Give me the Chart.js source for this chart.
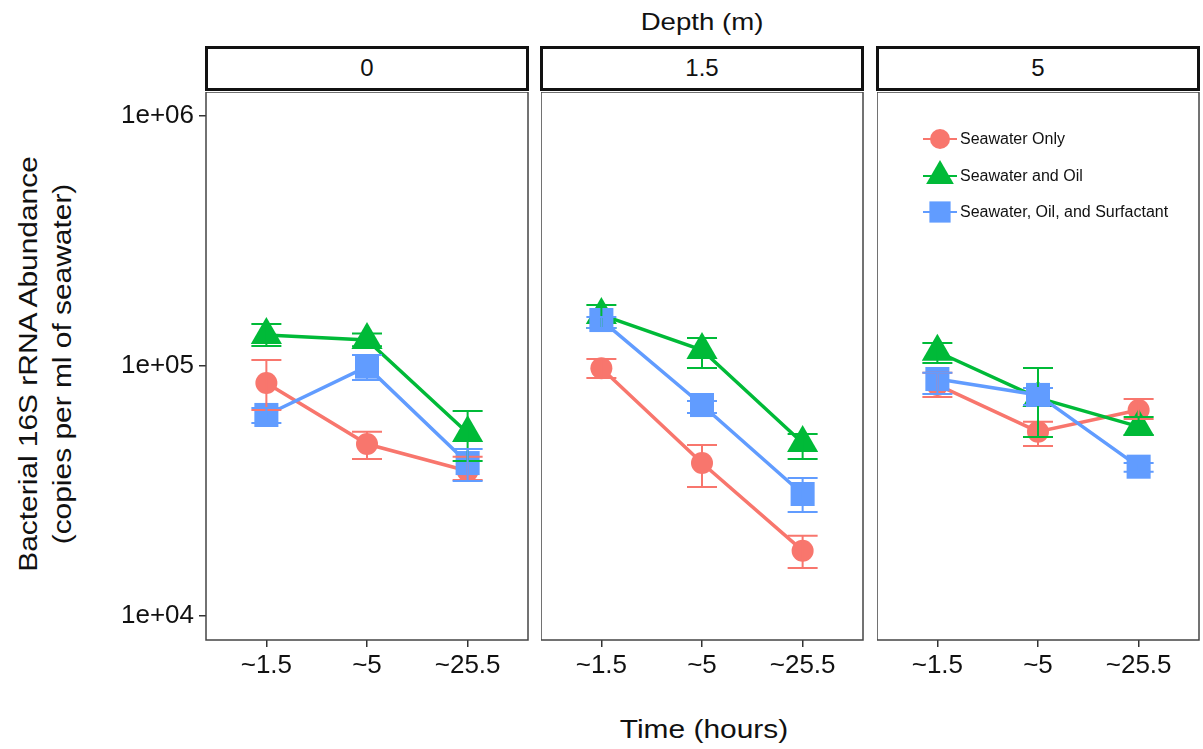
<!DOCTYPE html>
<html>
<head>
<meta charset="utf-8">
<script src="https://cdn.jsdelivr.net/npm/chart.js@4/dist/chart.umd.min.js"></script>
<style>
  html, body { margin: 0; padding: 0; background: #fff; }
  body { width: 1203px; height: 749px; position: relative; overflow: hidden;
         font-family: "Liberation Sans", Arial, sans-serif; color: #111; }
  .panel { position: absolute; }
  .panel canvas { display: block; }
  .strip { position: absolute; box-sizing: border-box; border: 3px solid #111; background: #fff;
           text-align: center; font-size: 24px; line-height: 38px; }
  .title { position: absolute; white-space: nowrap; }
</style>
</head>
<body>
<div class="title" style="left:702px;top:22px;width:0;height:0;">
  <div style="position:absolute;transform:translate(-50%,-50%) scaleX(1.15);font-size:24px;white-space:nowrap;">Depth (m)</div>
</div>
<div class="title" style="left:704px;top:729px;width:0;height:0;">
  <div style="position:absolute;transform:translate(-50%,-50%) scaleX(1.15);font-size:26px;white-space:nowrap;">Time (hours)</div>
</div>
<div class="title" style="left:45px;top:364px;width:0;height:0;">
  <div style="position:absolute;transform:translate(-50%,-50%) rotate(-90deg) scaleX(1.15);text-align:center;font-size:26px;line-height:34px;white-space:nowrap;">Bacterial 16S rRNA Abundance<br>(copies per ml of seawater)</div>
</div>

<script>
// Time points on the x axis and depth facets
const timeLabels = ['~1.5', '~5', '~25.5'];
const depths = ['0', '1.5', '5'];
const yTickValues = [1e4, 1e5, 1e6];
const yTickLabels = ['1e+04', '1e+05', '1e+06'];

// Series means per depth (rows: depth 0, 1.5, 5; columns: time points)
const seawaterOnly = [[85500, 48750, 38000], [97900, 40900, 18250], [84000, 54600, 66700]];
const seawaterOnlyLow = [[66700, 42500, 35000], [89500, 32800, 15560], [75200, 47900, 61400]];
const seawaterOnlyHigh = [[105700, 54600, 43400], [106700, 48300, 20950], [94000, 59800, 73800]];

const seawaterOil = [[133000, 127000, 53950], [160000, 115900, 49200], [114000, 74500, 57200]];
const seawaterOilLow = [[120200, 120000, 41700], [141900, 98200, 42500], [102800, 52000, 52970]];
const seawaterOilHigh = [[147200, 135000, 66100], [175400, 129400, 53500], [123600, 98200, 62500]];

const seawaterOilSurf = [[63700, 99400, 40900], [152700, 69800, 30760], [88700, 76600, 39560]];
const seawaterOilSurfLow = [[59200, 87900, 34700], [141900, 64900, 26060], [77300, 69800, 37800]];
const seawaterOilSurfHigh = [[67900, 110700, 46600], [157000, 72400, 35650], [94000, 81700, 40900]];

const seriesNames = ['Seawater Only', 'Seawater and Oil', 'Seawater, Oil, and Surfactant'];
const seriesColors = ['#F8766D', '#00BA38', '#619CFF'];
const seriesShapes = ['circle', 'triangle', 'rect'];
const seriesRadius = [11, 18, 17];

const FONT = '"Liberation Sans", Arial, sans-serif';

// Panel geometry: chart areas are 322px wide, sharing the same y range
const panelLeft = [206, 541, 877];
const panelWidth = 322;
const areaTop = 92, areaBottom = 640;
const yAxisWidth = 206;
const xAxisHeight = 60;

function toPoints(vals) { return vals.map((v, i) => ({ x: i + 1, y: v })); }

// Draws vertical error bars with caps using the chart's own scales
const errorBarPlugin = {
  id: 'errorBars',
  afterDatasetsDraw(chart) {
    const { ctx, scales: { x, y } } = chart;
    ctx.save();
    chart.data.datasets.forEach(ds => {
      ctx.strokeStyle = ds.borderColor;
      ctx.lineWidth = 2;
      ds.errLow.forEach((lo, i) => {
        const hi = ds.errHigh[i];
        const px = x.getPixelForValue(i + 1);
        const pLo = y.getPixelForValue(lo), pHi = y.getPixelForValue(hi);
        ctx.beginPath();
        ctx.moveTo(px, pLo); ctx.lineTo(px, pHi);
        ctx.moveTo(px - 15, pLo); ctx.lineTo(px + 15, pLo);
        ctx.moveTo(px - 15, pHi); ctx.lineTo(px + 15, pHi);
        ctx.stroke();
      });
    });
    ctx.restore();
  }
};

// Panel frame
const framePlugin = {
  id: 'frame',
  afterDraw(chart) {
    const { ctx, chartArea: a } = chart;
    ctx.save();
    ctx.strokeStyle = '#444';
    ctx.lineWidth = 1.5;
    ctx.strokeRect(a.left, a.top, a.right - a.left, a.bottom - a.top);
    ctx.restore();
  }
};

// Legend drawn inside the chart area of the last panel
const insideLegendPlugin = {
  id: 'insideLegend',
  afterDraw(chart, args, opts) {
    if (!opts.show) return;
    const { ctx, chartArea: a } = chart;
    ctx.save();
    const x0 = a.left + 63, tx = a.left + 83;
    const ys = [a.top + 47, a.top + 84, a.top + 120];
    chart.data.datasets.forEach(ds => {
      const yy = ys[ds.legendIndex];
      ctx.strokeStyle = ds.borderColor;
      ctx.lineWidth = 2;
      ctx.beginPath(); ctx.moveTo(x0 - 17, yy); ctx.lineTo(x0 + 17, yy); ctx.stroke();
      ctx.fillStyle = ds.borderColor;
      Chart.helpers.drawPoint(ctx, { pointStyle: ds.pointStyle, radius: ds.legendRadius, borderWidth: 0 }, x0, yy);
      ctx.fillStyle = '#111';
      ctx.font = '16px ' + FONT;
      ctx.textBaseline = 'middle';
      ctx.fillText(ds.label, tx, yy + 1);
    });
    ctx.restore();
  }
};

depths.forEach((depth, p) => {
  const isFirst = p === 0;
  const leftPad = isFirst ? yAxisWidth : 0;
  const w = panelWidth + leftPad + 2;
  const h = areaBottom - areaTop + xAxisHeight;
  const div = document.createElement('div');
  div.className = 'panel';
  div.style.left = (panelLeft[p] - leftPad) + 'px';
  div.style.top = areaTop + 'px';
  div.style.width = w + 'px';
  div.style.height = h + 'px';
  const canvas = document.createElement('canvas');
  canvas.width = w; canvas.height = h;
  canvas.style.width = w + 'px'; canvas.style.height = h + 'px';
  div.appendChild(canvas);
  document.body.appendChild(div);

  // Strip label above the panel
  const strip = document.createElement('div');
  strip.className = 'strip';
  strip.style.left = (panelLeft[p] - 1) + 'px';
  strip.style.top = '46px';
  strip.style.width = (panelWidth + 2) + 'px';
  strip.style.height = '45px';
  strip.textContent = depth;
  document.body.appendChild(strip);

  const means = [seawaterOnly, seawaterOil, seawaterOilSurf];
  const lows = [seawaterOnlyLow, seawaterOilLow, seawaterOilSurfLow];
  const highs = [seawaterOnlyHigh, seawaterOilHigh, seawaterOilSurfHigh];

  const datasets = seriesNames.map((name, s) => ({
    label: name,
    data: toPoints(means[s][p]),
    errLow: lows[s][p],
    errHigh: highs[s][p],
    borderColor: seriesColors[s],
    backgroundColor: seriesColors[s],
    borderWidth: 3.5,
    pointStyle: seriesShapes[s],
    pointRadius: seriesRadius[s],
    pointBorderWidth: 0,
    pointHoverRadius: seriesRadius[s],
    legendIndex: s,
    legendRadius: [10, 16, 15][s],
    order: 2 - s,
    tension: 0
  }));

  new Chart(canvas, {
    type: 'line',
    data: { datasets },
    plugins: [errorBarPlugin, framePlugin, insideLegendPlugin],
    options: {
      responsive: false,
      animation: false,
      devicePixelRatio: 1,
      layout: { autoPadding: false, padding: { top: 0, right: 2, left: 0, bottom: 0 } },
      plugins: {
        legend: { display: false },
        tooltip: { enabled: false },
        insideLegend: { show: p === 2 }
      },
      scales: {
        x: {
          type: 'linear',
          min: 0.4, max: 3.6,
          afterBuildTicks: axis => { axis.ticks = timeLabels.map((_, i) => ({ value: i + 1 })); },
          afterFit: axis => { axis.height = xAxisHeight; axis.paddingLeft = 0; axis.paddingRight = 0; },
          ticks: {
            callback: v => timeLabels[v - 1],
            font: { family: FONT, size: 26 },
            color: '#111',
            padding: 3,
            maxRotation: 0,
            autoSkip: false
          },
          grid: { drawOnChartArea: false, drawTicks: true, tickLength: 7, color: '#333', lineWidth: 1.5 },
          border: { display: false }
        },
        y: {
          type: 'logarithmic',
          display: isFirst,
          min: 10 ** 3.904, max: 10 ** 6.096,
          afterBuildTicks: axis => { axis.ticks = yTickValues.map(v => ({ value: v })); },
          afterFit: axis => { axis.width = isFirst ? yAxisWidth : 0; axis.paddingTop = 0; axis.paddingBottom = 0; },
          ticks: {
            callback: v => yTickLabels[yTickValues.indexOf(v)],
            font: { family: FONT, size: 26 },
            color: '#111',
            padding: 5
          },
          grid: { drawOnChartArea: false, drawTicks: true, tickLength: 7, color: '#333', lineWidth: 1.5 },
          border: { display: false }
        }
      }
    }
  });
});
</script>
</body>
</html>
